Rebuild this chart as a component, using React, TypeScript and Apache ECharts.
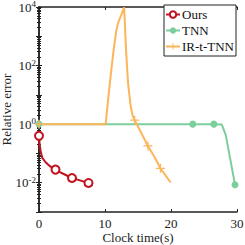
import React, { useEffect, useRef } from "react";
import * as echarts from "echarts";

const seriesNames = ["Ours", "TNN", "IR-t-TNN"];

const oursX = [0, 0.1, 0.25, 0.5, 1.0, 1.7, 2.5, 3.5, 5.0, 6.2, 7.5];
const oursY = [0.4, 0.2, 0.12, 0.07, 0.05, 0.036, 0.028, 0.021, 0.0145, 0.012, 0.0098];
const oursMarked = [0, 6, 8, 10];

const tnnX = [0, 10, 20, 23.3, 26.5, 27.7, 28.3, 29.7];
const tnnY = [1, 1, 1, 1, 1, 0.97, 0.42, 0.0085];
const tnnMarked = [0, 3, 4, 7];

const irX = [0, 10.1, 10.5, 11.0, 11.3, 11.7, 12.0, 12.5, 12.9, 13.2, 13.5, 13.9, 14.2, 14.5, 15.5, 16.5, 17.5, 18.4, 19.95];
const irY = [1, 1, 8, 87, 330, 1500, 2950, 5600, 9800, 300, 24, 3.9, 1.9, 1.37, 0.5, 0.18, 0.075, 0.031, 0.0102];
const irMarked = [0, 13, 15, 17];

const xTicks = [0, 10, 20, 30];
const yLabelExps = [-2, 0, 2, 4];

const colors = ["#c1121f", "#7ccf9c", "#fdb55a"];
const FONT = "Liberation Serif";
const PLUS = "path://M4.3,0H5.7V4.3H10V5.7H5.7V10H4.3V5.7H0V4.3H4.3Z";

function build(xs: number[], ys: number[], marked: number[]) {
  return xs.map((x, i) =>
    marked.includes(i) ? { value: [x, ys[i]] } : { value: [x, ys[i]], symbol: "none" }
  );
}

export default function App() {
  const ref = useRef<HTMLDivElement>(null);
  useEffect(() => {
    if (!ref.current) return;
    const chart = echarts.init(ref.current, null, { renderer: "svg" });
    const axisLine = { show: true, lineStyle: { color: "#222", width: 1.5 } };
    const yFormatter = (v: number) => {
      const l = Math.log10(v);
      const e = Math.round(l);
      if (Math.abs(l - e) > 1e-6 || !yLabelExps.includes(e)) return "";
      return `{b|10}{s|${e}}`;
    };
    const yCommon: any = {
      type: "log",
      logBase: 10,
      min: 0.001,
      max: 10000,
      splitNumber: 7,
      axisLine,
      axisTick: { show: true, inside: true, length: 3, lineStyle: { color: "#222", width: 1 } },
      minorTick: { show: true, splitNumber: 9, length: 2, lineStyle: { color: "#222", width: 1 } },
      splitLine: { show: false },
      minorSplitLine: { show: false },
    };
    chart.setOption({
      animation: false,
      textStyle: { fontFamily: FONT },
      grid: { left: 39, right: 8, top: 7, bottom: 33, containLabel: false, outerBoundsMode: "none" },
      legend: {
        data: seriesNames,
        orient: "vertical",
        right: 9,
        top: 5,
        itemWidth: 14,
        itemHeight: 8,
        itemGap: 3,
        padding: [3, 2, 3, 1],
        backgroundColor: "#fff",
        borderColor: "#222",
        borderWidth: 1,
        borderRadius: 0,
        textStyle: { fontFamily: FONT, fontSize: 13, color: "#111", padding: [0, 0, 0, -3] },
      },
      xAxis: [
        {
          type: "value",
          min: 0,
          max: 30,
          interval: 10,
          name: "Clock time(s)",
          nameLocation: "middle",
          nameGap: 19,
          nameMoveOverlap: false,
          nameTextStyle: { fontFamily: FONT, fontSize: 13, color: "#222", lineHeight: 13 },
          axisLine,
          axisTick: { show: true, inside: true, length: 3, lineStyle: { color: "#222" } },
          axisLabel: { fontFamily: FONT, fontSize: 13, color: "#222", margin: 5, formatter: (v: number) => (xTicks.includes(v) ? String(v) : "") },
          splitLine: { show: false },
        },
        {
          type: "value",
          position: "top",
          min: 0,
          max: 30,
          interval: 10,
          axisLine,
          axisTick: { show: true, inside: true, length: 3, lineStyle: { color: "#222" } },
          axisLabel: { show: false },
          splitLine: { show: false },
        },
      ],
      yAxis: [
        {
          ...yCommon,
          name: "Relative error",
          nameLocation: "middle",
          nameGap: 26,
          nameMoveOverlap: false,
          nameTextStyle: { fontFamily: FONT, fontSize: 13, color: "#222", lineHeight: 13 },
          axisLabel: {
            margin: 3,
            formatter: yFormatter,
            showMinLabel: true,
            showMaxLabel: true,
            rich: {
              b: { fontFamily: FONT, fontSize: 13, color: "#222" },
              s: { fontFamily: FONT, fontSize: 9, color: "#222", padding: [0, 0, 6, 0] },
            },
          },
        },
        {
          ...yCommon,
          position: "right",
          axisLabel: { show: false },
        },
      ],
      series: [
        {
          name: seriesNames[0],
          type: "line",
          data: build(oursX, oursY, oursMarked),
          color: colors[0],
          lineStyle: { width: 2, color: colors[0] },
          symbol: "emptyCircle",
          symbolSize: 8,
          itemStyle: { color: colors[0], borderColor: colors[0], borderWidth: 2 },
          showAllSymbol: true,
          z: 3,
        },
        {
          name: seriesNames[1],
          type: "line",
          data: build(tnnX, tnnY, tnnMarked),
          color: colors[1],
          lineStyle: { width: 2, color: colors[1] },
          symbol: "circle",
          symbolSize: 7,
          itemStyle: { color: colors[1] },
          showAllSymbol: true,
          z: 2,
        },
        {
          name: seriesNames[2],
          type: "line",
          data: build(irX, irY, irMarked),
          color: colors[2],
          lineStyle: { width: 2, color: colors[2] },
          symbol: PLUS,
          symbolSize: 9,
          itemStyle: { color: colors[2] },
          showAllSymbol: true,
          z: 2,
        },
      ],
    });
    return () => chart.dispose();
  }, []);
  return <div ref={ref} style={{ width: 245, height: 245, position: "absolute", left: 0, top: 0 }} />;
}
